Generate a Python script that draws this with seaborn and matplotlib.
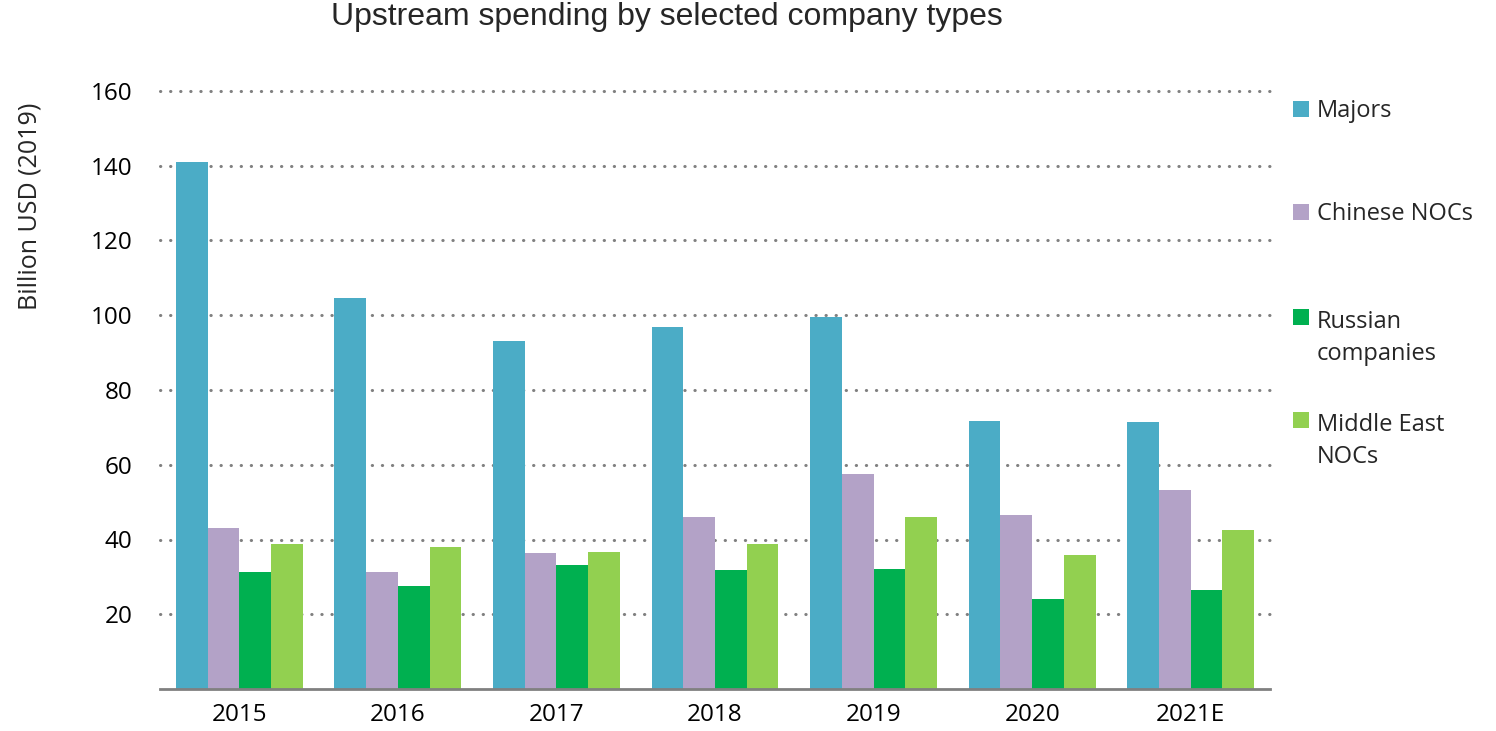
import matplotlib
matplotlib.use("Agg")
import matplotlib.pyplot as plt
import matplotlib.patches as mpatches
import seaborn as sns
import pandas as pd

# Upstream spending, billion USD (2019)
years = ["2015", "2016", "2017", "2018", "2019", "2020", "2021E"]
majors = [141.0, 104.6, 93.1, 96.8, 99.6, 71.8, 71.5]
chinese_nocs = [43.0, 31.2, 36.5, 45.9, 57.4, 46.5, 53.2]
russian_companies = [31.4, 27.5, 33.1, 31.9, 32.0, 24.2, 26.4]
middle_east_nocs = [38.8, 37.9, 36.7, 38.9, 46.1, 35.9, 42.6]

series_names = ["Majors", "Chinese NOCs", "Russian\ncompanies", "Middle East\nNOCs"]
series_values = [majors, chinese_nocs, russian_companies, middle_east_nocs]
colors = ["#4BACC6", "#B3A2C7", "#00B050", "#92D050"]
y_ticks = [20, 40, 60, 80, 100, 120, 140, 160]

df = pd.DataFrame(
    [(y, name, v) for name, vals in zip(series_names, series_values) for y, v in zip(years, vals)],
    columns=["year", "type", "value"],
)

sns.set_theme(style="white")
plt.rcParams["font.family"] = ["Open Sans", "DejaVu Sans"]

W, H = 1496, 731
fig = plt.figure(figsize=(W / 100, H / 100), dpi=100)
ax = fig.add_axes([160 / W, 1 - 689 / H, 1110 / W, 598 / H])

sns.barplot(
    data=df, x="year", y="value", hue="type", hue_order=series_names,
    palette=colors, width=0.8, saturation=1, linewidth=0, ax=ax, legend=False,
)

ax.set_xlim(-0.5, len(years) - 0.5)
ax.set_ylim(0, 160)
ax.set_yticks(y_ticks)
ax.set_xlabel("")
ax.set_ylabel("")
ax.tick_params(axis="both", length=0, labelsize=17.5, colors="#000000")
ax.tick_params(axis="y", pad=20)
ax.tick_params(axis="x", pad=10)

ax.set_axisbelow(True)
ax.yaxis.grid(True, color="#808080", linewidth=2.2, linestyle=(0, (0.1, 3.2)))
for gl in ax.yaxis.get_gridlines():
    gl.set_clip_on(False)
    gl.set_dash_capstyle("round")
ax.xaxis.grid(False)

for side in ["top", "right", "left"]:
    ax.spines[side].set_visible(False)
ax.spines["bottom"].set_color("#808080")
ax.spines["bottom"].set_linewidth(2)

fig.text(667 / W, 1 - 25 / H, "Upstream spending by selected company types",
         ha="center", va="baseline", fontsize=23, family=["Liberation Sans", "DejaVu Sans"])
fig.text(30 / W, 1 - 206 / H, "Billion USD (2019)", rotation=90,
         ha="center", va="center", fontsize=18)

# Legend entries at the right of the plot (baseline of first line per entry)
legend_baselines = [117, 220, 325, 428]
line_step = 35
for name, color, base in zip(series_names, colors, legend_baselines):
    sq = mpatches.Rectangle((1293 / W, 1 - base / H), 16 / W, 16 / H,
                            transform=fig.transFigure, facecolor=color, edgecolor="none")
    fig.patches.append(sq)
    last_base = base + line_step * name.count("\n")
    fig.text(1317 / W, 1 - last_base / H, name, ha="left", va="baseline", fontsize=17,
             linespacing=1.47)

fig.savefig("out.png", dpi=100)
